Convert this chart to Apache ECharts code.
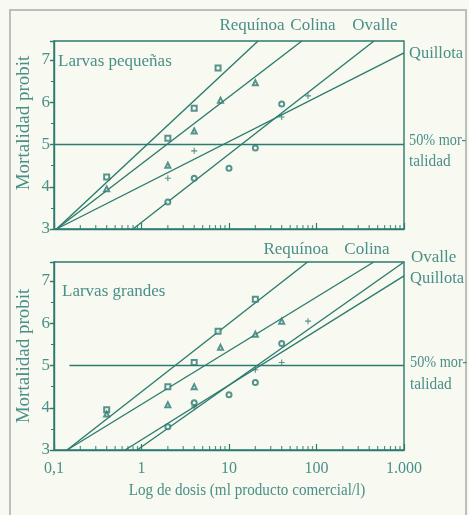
<!DOCTYPE html>
<html>
<head>
<meta charset="utf-8">
<script src="https://cdn.jsdelivr.net/npm/echarts@6/dist/echarts.min.js"></script>
<style>
html,body{margin:0;padding:0;background:#f8f9f1;}
#c{width:469px;height:515px;}
</style>
</head>
<body>
<div id="c"></div>
<script>
// ---------- data ----------
const sites = ['Requínoa', 'Colina', 'Ovalle', 'Quillota'];
const yTicks = [3, 4, 5, 6, 7];
const xTickLabels = {0.1: '0,1', 1: '1', 10: '10', 100: '100', 1000: '1.000'};
const xMinorTicks = [0.2,0.3,0.4,0.5,0.6,0.7,0.8,0.9, 2,3,4,5,6,7,8,9, 20,30,40,50,60,70,80,90, 200,300,400,500,600,700,800,900];
const mortality50 = 5;

// Larvas pequeñas: observed points [dose, probit]
const smallRequinoa = [[0.4,4.23],[2,5.15],[4,5.86],[7.5,6.81]];
const smallColina   = [[0.4,3.95],[2,4.51],[4,5.32],[8,6.05],[20,6.46]];
const smallOvalle   = [[2,3.64],[4,4.2],[10,4.44],[20,4.92],[40,5.96]];
const smallQuillota = [[2,4.2],[4,4.85],[40,5.65],[80,6.15]];
// Larvas pequeñas: fitted probit lines (end points)
const smallFitRequinoa = [[0.107,3],[21.5,7.45]];
const smallFitColina   = [[0.107,3],[68,7.45]];
const smallFitOvalle   = [[0.8,3],[454,7.45]];
const smallFitQuillota = [[0.107,3],[1000,7.17]];
const smallRef50 = [[0.1,mortality50],[1000,mortality50]];

// Larvas grandes
const bigRequinoa = [[0.4,3.95],[2,4.5],[4,5.07],[7.5,5.81],[20,6.57]];
const bigColina   = [[0.4,3.85],[2,4.07],[4,4.5],[8,5.43],[20,5.74],[40,6.05]];
const bigOvalle   = [[2,3.55],[4,4.12],[10,4.31],[20,4.6],[40,5.52]];
const bigQuillota = [[4,4.02],[20,4.9],[40,5.07],[80,6.05]];
const bigFitRequinoa = [[0.141,3],[79,7.45]];
const bigFitColina   = [[0.141,3],[451,7.45]];
const bigFitOvalle   = [[0.89,3],[1000,7.45]];
const bigFitQuillota = [[0.65,3],[1000,7.12]];
const bigRef50 = [[0.15,mortality50],[1000,mortality50]];

// ---------- style ----------
const LINE = '#2c7b6f';
const TEXT = '#4a8f88';
const FONT = '"Liberation Serif", "DejaVu Serif", serif';
const plusPath = 'path://M0,5L10,5M5,0L5,10';
const markers = ['emptyRect', 'emptyTriangle', 'emptyCircle', plusPath];

const chart = echarts.init(document.getElementById('c'), null, {renderer: 'canvas'});

function xAxisFor(gi, showLabels) {
  return {
    type: 'log', logBase: 10, min: 0.1, max: 1000, gridIndex: gi,
    axisLine: {show: true, lineStyle: {color: LINE, width: 1.4}},
    axisTick: {show: true, inside: true, length: 6, lineStyle: {color: LINE, width: 1.2}},
    minorTick: {show: false},
    splitLine: {show: false},
    axisLabel: {show: showLabels, color: TEXT, fontFamily: FONT, fontSize: 16, margin: 11,
      formatter: v => xTickLabels[v] !== undefined ? xTickLabels[v] : (xTickLabels[Math.round(v*10)/10] || '')}
  };
}
function yAxisFor(gi) {
  return {
    type: 'value', min: 3, max: 7.45, interval: 1, gridIndex: gi,
    axisLine: {show: true, lineStyle: {color: LINE, width: 1.4}},
    axisTick: {show: true, length: 4, lineStyle: {color: LINE, width: 1.4}},
    minorTick: {show: true, splitNumber: 2, length: 3, lineStyle: {color: LINE, width: 1}},
    splitLine: {show: false},
    axisLabel: {color: TEXT, fontFamily: FONT, fontSize: 17, margin: 4, showMaxLabel: false,
      formatter: v => yTicks.includes(v) ? String(v) : ''}
  };
}

const series = [];
function addPanel(gi, pts, fits, ref) {
  fits.forEach((f, i) => series.push({
    type: 'line', xAxisIndex: gi, yAxisIndex: gi, data: f, showSymbol: false,
    lineStyle: {color: LINE, width: 1.4}, silent: true, z: 2, clip: true
  }));
  series.push({type: 'line', xAxisIndex: gi, yAxisIndex: gi, data: ref, showSymbol: false,
    lineStyle: {color: LINE, width: 1.4}, silent: true, z: 2});
  pts.forEach((p, i) => series.push({
    type: 'scatter', xAxisIndex: gi, yAxisIndex: gi, data: p, name: sites[i],
    symbol: markers[i], symbolSize: i === 3 ? 6 : 5,
    itemStyle: i === 3 ? {color: 'none', borderColor: LINE, borderWidth: 1.1}
                       : {color: LINE, borderColor: LINE, borderWidth: 1},
    z: 3
  }));
  series.push({
    type: 'scatter', xAxisIndex: gi, yAxisIndex: gi,
    data: xMinorTicks.map(v => [v, 3]), symbol: 'rect', symbolSize: [1.2, 4],
    symbolOffset: [0, -2], itemStyle: {color: LINE}, silent: true, z: 4
  });
}
addPanel(0, [smallRequinoa, smallColina, smallOvalle, smallQuillota],
  [smallFitRequinoa, smallFitColina, smallFitOvalle, smallFitQuillota], smallRef50);
addPanel(1, [bigRequinoa, bigColina, bigOvalle, bigQuillota],
  [bigFitRequinoa, bigFitColina, bigFitOvalle, bigFitQuillota], bigRef50);

function txt(s, x, y, opts, sx) {
  return Object.assign({type: 'text', x: x, y: y, silent: true, scaleX: sx || 1,
    style: Object.assign({text: s, fill: TEXT, font: '17px ' + FONT, textAlign: 'left', textVerticalAlign: 'middle'}, opts || {})});
}

chart.setOption({
  animation: false,
  backgroundColor: '#f8f9f1',
  grid: [
    {left: 54, top: 41, width: 350, height: 188, show: true, borderColor: LINE, borderWidth: 1.4, backgroundColor: 'transparent'},
    {left: 54, top: 262, width: 350, height: 188, show: true, borderColor: LINE, borderWidth: 1.4, backgroundColor: 'transparent'}
  ],
  xAxis: [xAxisFor(0, false), xAxisFor(1, true)],
  yAxis: [yAxisFor(0), yAxisFor(1)],
  series: series,
  graphic: [
    {type: 'rect', shape: {x: 10, y: 10, width: 456, height: 510}, style: {fill: 'none', stroke: '#b9c0bb', lineWidth: 2}, silent: true},
    txt('Larvas pequeñas', 58, 62),
    txt('Larvas grandes', 62, 292),
    txt('Requínoa', 252, 26, {textAlign: 'center'}),
    txt('Colina', 313, 26, {textAlign: 'center'}),
    txt('Ovalle', 375, 26, {textAlign: 'center'}),
    txt('Quillota', 409, 54, null, 0.97),
    txt('50% mor-', 409, 141, null, 0.84),
    txt('talidad', 409, 162, null, 0.9),
    txt('Requínoa', 296, 250, {textAlign: 'center'}),
    txt('Colina', 367, 250, {textAlign: 'center'}),
    txt('Ovalle', 411, 258),
    txt('Quillota', 410, 279, null, 0.97),
    txt('50% mor-', 410, 363, null, 0.84),
    txt('talidad', 410, 385, null, 0.9),
    {type: 'text', x: 24, y: 123, rotation: Math.PI / 2, silent: true,
      style: {text: 'Mortalidad probit', fill: TEXT, font: '19px ' + FONT, textAlign: 'center', textVerticalAlign: 'middle'}},
    {type: 'text', x: 24, y: 356, rotation: Math.PI / 2, silent: true,
      style: {text: 'Mortalidad probit', fill: TEXT, font: '19px ' + FONT, textAlign: 'center', textVerticalAlign: 'middle'}},
    txt('Log de dosis (ml producto comercial/l)', 247, 491, {textAlign: 'center'}, 0.89)
  ]
});
</script>
</body>
</html>
